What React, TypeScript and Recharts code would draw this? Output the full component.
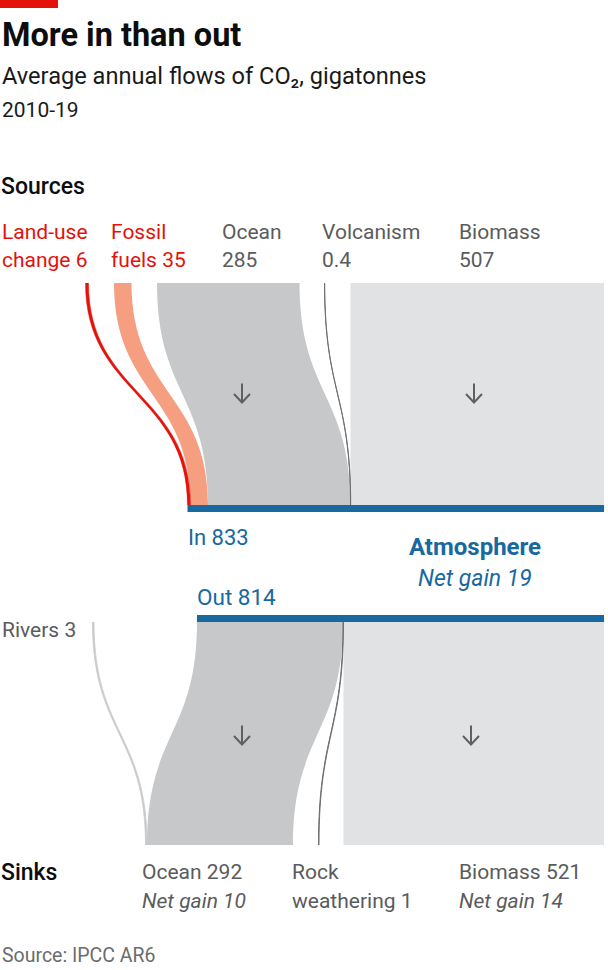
import React from 'react';
import { ComposedChart, Area, XAxis, YAxis, ReferenceArea } from 'recharts';

// gigatonnes of CO2 a year, 2010-19
const sourceKeys = ['landUse', 'fossil', 'ocean', 'volcanism', 'biomass'];
const sourceValues = [6, 35, 285, 0.4, 507];
const sinkKeys = ['ocean', 'rock', 'biomass'];
const sinkValues = [292, 1, 521];
const sinkNetGain = [10, 14];
const riversValue = 3;
const totalIn = 833;
const totalOut = 814;
const netGain = 19;

// layout, in axis units (0.5px per gigatonne)
const AXIS_MAX = 1216;
const IN_START = 375;
const OUT_START = 394;
const sourceTopStart = [171, 228, 314, 649, 701];
const sinkBottomStart = [294, 637, 687];
const riversStart = [185, 291];

const TOP_DEPTH = 222;
const BOTTOM_DEPTH = 230;
const BAR_H = 7;

const BLUE = '#17699f';
const GREY_TEXT = '#5a5b5d';

const sourceColors: Record<string, string> = {
  landUse: '#e3120b',
  fossil: '#f59e80',
  ocean: '#c7c8ca',
  volcanism: '#6b6c6e',
  biomass: '#e1e2e4',
};
const sinkColors: Record<string, string> = {
  rivers: '#c9cacc',
  ocean: '#c7c8ca',
  rock: '#6b6c6e',
  biomass: '#e1e2e4',
};

const buildSourceRows = () => {
  const top: any = { stage: 0 };
  const bottom: any = { stage: TOP_DEPTH };
  let cum = IN_START;
  sourceKeys.forEach((k, i) => {
    top[k] = [sourceTopStart[i], sourceTopStart[i] + sourceValues[i]];
    bottom[k] = [cum, cum + sourceValues[i]];
    cum += sourceValues[i];
  });
  return [top, bottom];
};

const buildSinkRows = () => {
  const top: any = { stage: BAR_H };
  const bottom: any = { stage: BOTTOM_DEPTH };
  let cum = OUT_START;
  sinkKeys.forEach((k, i) => {
    top[k] = [cum, cum + sinkValues[i]];
    bottom[k] = [sinkBottomStart[i], sinkBottomStart[i] + sinkValues[i]];
    cum += sinkValues[i];
  });
  top.rivers = [riversStart[0], riversStart[0] + riversValue];
  bottom.rivers = [riversStart[1], riversStart[1] + riversValue];
  return [top, bottom];
};

const sourceRows = buildSourceRows();
const sinkRows = buildSinkRows();

const thin: Record<string, number> = { landUse: 0.5, volcanism: 0.9, rock: 0.9, rivers: 0.8 };

const flow = (key: string, color: string) => (
  <Area
    key={key}
    dataKey={key}
    type="bumpY"
    fill={color}
    fillOpacity={1}
    stroke={thin[key] ? color : 'none'}
    strokeWidth={thin[key] || 0}
    dot={false}
    activeDot={false}
    isAnimationActive={false}
  />
);

const FONT = 'Roboto, "Noto Sans", sans-serif';

const Arrow = ({ cx, cy }: { cx: number; cy: number }) => (
  <path
    d={`M${cx},${cy - 9.5}V${cy + 9}M${cx - 8},${cy + 1}L${cx},${cy + 9.5}L${cx + 8},${cy + 1}`}
    fill="none"
    stroke="#5f6062"
    strokeWidth={2}
  />
);

const App: React.FC = () => {
  const t = (x: number, y: number, s: string, opts: any = {}) => (
    <text
      x={x}
      y={y}
      fontSize={opts.size || 21}
      fontWeight={opts.weight || 400}
      fontStyle={opts.italic ? 'italic' : 'normal'}
      fill={opts.color || GREY_TEXT}
      textAnchor={opts.anchor || 'start'}
    >
      {s}
    </text>
  );

  return (
    <div
      style={{
        position: 'absolute',
        left: 0,
        top: 0,
        width: 608,
        height: 970,
        background: '#fff',
        fontFamily: FONT,
        overflow: 'hidden',
      }}
    >
      <div style={{ position: 'absolute', left: 0, top: 283 }}>
        <ComposedChart
          width={608}
          height={TOP_DEPTH + BAR_H}
          layout="vertical"
          data={sourceRows}
          margin={{ top: 0, right: 0, bottom: 0, left: 0 }}
        >
          <XAxis type="number" domain={[0, AXIS_MAX]} hide allowDataOverflow />
          <YAxis type="number" dataKey="stage" domain={[0, TOP_DEPTH + BAR_H]} hide allowDataOverflow />
          {flow('biomass', sourceColors.biomass)}
          {flow('ocean', sourceColors.ocean)}
          {flow('fossil', sourceColors.fossil)}
          {flow('landUse', sourceColors.landUse)}
          {flow('volcanism', sourceColors.volcanism)}
          <ReferenceArea
            x1={IN_START}
            x2={IN_START + totalIn}
            y1={TOP_DEPTH}
            y2={TOP_DEPTH + BAR_H}
            fill={BLUE}
            fillOpacity={1}
            stroke="none"
            ifOverflow="visible"
          />
        </ComposedChart>
      </div>

      <div style={{ position: 'absolute', left: 0, top: 615 }}>
        <ComposedChart
          width={608}
          height={BOTTOM_DEPTH}
          layout="vertical"
          data={sinkRows}
          margin={{ top: 0, right: 0, bottom: 0, left: 0 }}
        >
          <XAxis type="number" domain={[0, AXIS_MAX]} hide allowDataOverflow />
          <YAxis type="number" dataKey="stage" domain={[0, BOTTOM_DEPTH]} hide allowDataOverflow />
          {flow('biomass', sinkColors.biomass)}
          {flow('ocean', sinkColors.ocean)}
          {flow('rivers', sinkColors.rivers)}
          {flow('rock', sinkColors.rock)}
          <ReferenceArea
            x1={OUT_START}
            x2={OUT_START + totalOut}
            y1={0}
            y2={BAR_H}
            fill={BLUE}
            fillOpacity={1}
            stroke="none"
            ifOverflow="visible"
          />
        </ComposedChart>
      </div>

      <svg
        width={608}
        height={970}
        style={{ position: 'absolute', left: 0, top: 0, pointerEvents: 'none', fontFamily: FONT }}
      >
        <rect x={0} y={0} width={58} height={8} fill="#e3120b" />
        {t(2, 46, 'More in than out', { size: 32.5, weight: 700, color: '#0d0d0d' })}
        {t(2, 84, 'Average annual flows of CO₂, gigatonnes', { size: 23.6, color: '#1a1a1a' })}
        {t(2, 117, '2010-19', { size: 21, color: '#1a1a1a' })}

        {t(1, 194, 'Sources', { size: 23, weight: 500, color: '#0d0d0d' })}
        {t(2, 239, 'Land-use', { color: '#e3120b' })}
        {t(2, 267, `change ${sourceValues[0]}`, { color: '#e3120b' })}
        {t(111, 239, 'Fossil', { color: '#e3120b' })}
        {t(111, 267, `fuels ${sourceValues[1]}`, { color: '#e3120b' })}
        {t(222, 239, 'Ocean')}
        {t(222, 267, `${sourceValues[2]}`)}
        {t(322, 239, 'Volcanism')}
        {t(322, 267, `${sourceValues[3]}`)}
        {t(459, 239, 'Biomass')}
        {t(459, 267, `${sourceValues[4]}`)}

        <Arrow cx={242} cy={393} />
        <Arrow cx={474} cy={393} />

        {t(188, 545, `In ${totalIn}`, { size: 22, color: BLUE })}
        {t(475, 555, 'Atmosphere', { size: 24, weight: 700, color: BLUE, anchor: 'middle' })}
        {t(475, 586, `Net gain ${netGain}`, { size: 23, color: BLUE, italic: true, anchor: 'middle' })}
        {t(197, 605, `Out ${totalOut}`, { size: 22.5, color: BLUE })}

        {t(2, 637, `Rivers ${riversValue}`)}
        <Arrow cx={242} cy={735} />
        <Arrow cx={471} cy={735} />

        {t(1, 880, 'Sinks', { size: 23, weight: 500, color: '#0d0d0d' })}
        {t(142, 879, `Ocean ${sinkValues[0]}`)}
        {t(142, 908, `Net gain ${sinkNetGain[0]}`, { italic: true })}
        {t(292, 879, 'Rock')}
        {t(292, 908, `weathering ${sinkValues[1]}`)}
        {t(459, 879, `Biomass ${sinkValues[2]}`)}
        {t(459, 908, `Net gain ${sinkNetGain[1]}`, { italic: true })}

        {t(2, 962, 'Source: IPCC AR6', { size: 19.5, color: '#6b6c6e' })}
      </svg>
    </div>
  );
};

export default App;
